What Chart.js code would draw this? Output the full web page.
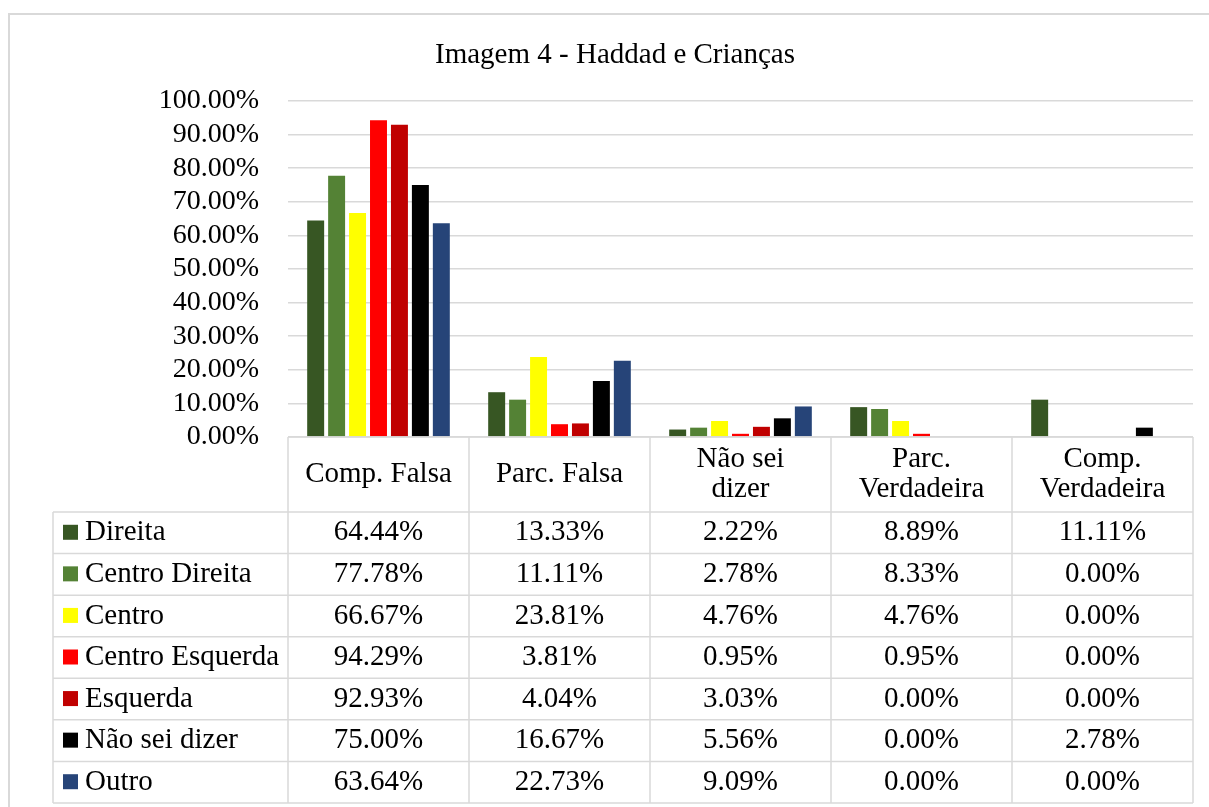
<!DOCTYPE html>
<html>
<head>
<meta charset="utf-8">
<script src="https://cdn.jsdelivr.net/npm/chart.js@4.4.1/dist/chart.umd.min.js"></script>
<style>
    body { margin: 0; background: #fff; }
    #wrap { width: 1209px; height: 807px; }
</style>
</head>
<body>
<div id="wrap"><canvas id="myChart" width="1209" height="807"></canvas></div>
<script>
// Categories (header row of the data table), multi-line where Excel wrapped them
const categories = [
    ["Comp. Falsa"],
    ["Parc. Falsa"],
    ["Não sei", "dizer"],
    ["Parc.", "Verdadeira"],
    ["Comp.", "Verdadeira"]
];

const seriesNames = ["Direita", "Centro Direita", "Centro", "Centro Esquerda", "Esquerda", "Não sei dizer", "Outro"];
const seriesColors = ["#375623", "#548235", "#FFFF00", "#FF0000", "#C00000", "#000000", "#264478"];

// values in %
const direita        = [64.44, 13.33, 2.22, 8.89, 11.11];
const centroDireita  = [77.78, 11.11, 2.78, 8.33, 0.00];
const centro         = [66.67, 23.81, 4.76, 4.76, 0.00];
const centroEsquerda = [94.29, 3.81, 0.95, 0.95, 0.00];
const esquerda       = [92.93, 4.04, 3.03, 0.00, 0.00];
const naoSeiDizer    = [75.00, 16.67, 5.56, 0.00, 2.78];
const outro          = [63.64, 22.73, 9.09, 0.00, 0.00];

const seriesValues = [direita, centroDireita, centro, centroEsquerda, esquerda, naoSeiDizer, outro];

const yTicks = [0, 10, 20, 30, 40, 50, 60, 70, 80, 90, 100];

const chartTitle = "Imagem 4 - Haddad e Crianças";

const FONT = "'Liberation Serif', 'Times New Roman', serif";
const FONT_SIZE = 29;
const TICK_SIZE = 28;
const BORDER = "#d9d9d9";

function pct(v) {
    return v.toFixed(2) + "%";
}

// draws the outer frame, the title and the Excel style data table under the plot
const dataTablePlugin = {
    id: "dataTable",
    beforeDraw(chart) {
        let ctx = chart.ctx;
        ctx.save();
        ctx.fillStyle = "#fff";
        ctx.fillRect(0, 0, chart.width, chart.height);
        ctx.strokeStyle = BORDER;
        ctx.lineWidth = 2;
        ctx.strokeRect(9, 14, chart.width + 20, chart.height);

        // title is centred on the full Excel frame, which runs past the right edge
        ctx.fillStyle = "#000";
        ctx.font = FONT_SIZE + "px " + FONT;
        ctx.textAlign = "center";
        ctx.textBaseline = "middle";
        ctx.fillText(chartTitle, 615, 55);
        ctx.restore();
    },
    afterDraw(chart) {
        let ctx = chart.ctx;
        let area = chart.chartArea;
        let x = chart.scales.x;
        let top = area.bottom;
        let bottom = x.bottom;
        let headerH = 75;
        let rowH = (bottom - top - headerH) / seriesNames.length;
        let colW = (area.right - area.left) / categories.length;
        let leftEdge = 53;

        ctx.save();
        ctx.strokeStyle = BORDER;
        ctx.lineWidth = 1.5;

        // column lines
        for (let i = 0; i <= categories.length; i++) {
            let px = area.left + i * colW;
            ctx.beginPath();
            ctx.moveTo(px, top);
            ctx.lineTo(px, bottom);
            ctx.stroke();
        }
        ctx.beginPath();
        ctx.moveTo(leftEdge, top + headerH);
        ctx.lineTo(leftEdge, bottom);
        ctx.stroke();

        // row lines
        ctx.beginPath();
        ctx.moveTo(area.left, top);
        ctx.lineTo(area.right, top);
        ctx.stroke();
        for (let r = 0; r <= seriesNames.length; r++) {
            let py = top + headerH + r * rowH;
            ctx.beginPath();
            ctx.moveTo(leftEdge, py);
            ctx.lineTo(area.right, py);
            ctx.stroke();
        }

        ctx.fillStyle = "#000";
        ctx.font = FONT_SIZE + "px " + FONT;
        ctx.textBaseline = "middle";

        // header
        ctx.textAlign = "center";
        categories.forEach((lines, i) => {
            let cx = x.getPixelForValue(i);
            let lineH = 30;
            let startY = top + headerH / 2 - (lines.length - 1) * lineH / 2;
            lines.forEach((line, j) => {
                ctx.fillText(line, cx, startY + j * lineH);
            });
        });

        // rows: legend key + name, then values
        seriesNames.forEach((name, r) => {
            let cy = top + headerH + r * rowH + rowH / 2;
            ctx.fillStyle = seriesColors[r];
            ctx.fillRect(leftEdge + 10, cy - 8, 15, 15);
            ctx.fillStyle = "#000";
            ctx.textAlign = "left";
            ctx.fillText(name, leftEdge + 32, cy);
            ctx.textAlign = "center";
            seriesValues[r].forEach((v, i) => {
                ctx.fillText(pct(v), x.getPixelForValue(i), cy);
            });
        });
        ctx.restore();
    }
};

let datasets = [];
seriesNames.forEach((name, i) => {
    datasets.push({
        label: name,
        data: seriesValues[i],
        backgroundColor: seriesColors[i],
        borderWidth: 0,
        categoryPercentage: 0.81,
        barPercentage: 0.81
    });
});

new Chart(document.getElementById("myChart"), {
    type: "bar",
    data: {
        labels: categories,
        datasets: datasets
    },
    options: {
        responsive: false,
        animation: false,
        devicePixelRatio: 1,
        layout: {
            padding: { left: 9, right: 16, top: 101, bottom: 4 }
        },
        plugins: {
            legend: { display: false },
            tooltip: { enabled: false },
            title: { display: false }
        },
        scales: {
            x: {
                grid: { display: false },
                border: { display: false },
                ticks: { display: false },
                afterFit(scale) {
                    scale.height = 366;
                }
            },
            y: {
                min: 0,
                max: 100,
                afterBuildTicks(scale) {
                    scale.ticks = yTicks.map(v => ({ value: v }));
                },
                grid: { color: BORDER, lineWidth: 1.5, drawTicks: false },
                border: { display: false },
                ticks: {
                    color: "#000",
                    padding: 29,
                    autoSkip: false,
                    font: { family: FONT, size: TICK_SIZE },
                    callback: v => pct(v)
                },
                afterFit(scale) {
                    scale.width = 279;
                }
            }
        }
    },
    plugins: [dataTablePlugin]
});
</script>
</body>
</html>
